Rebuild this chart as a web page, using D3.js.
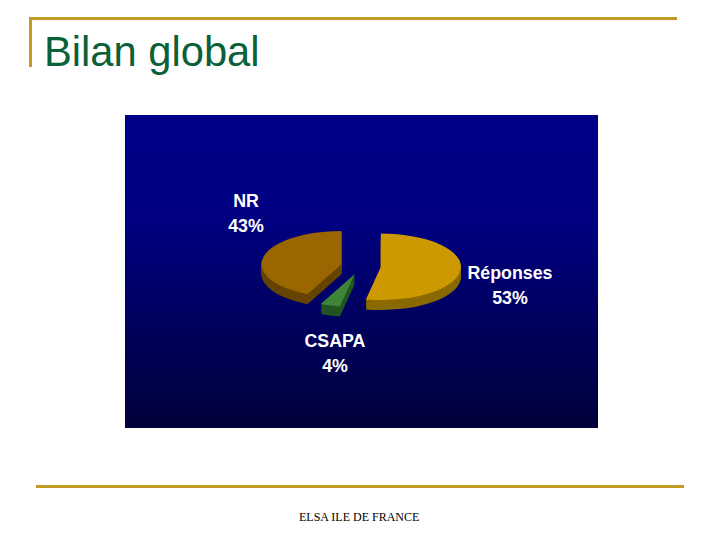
<!DOCTYPE html>
<html>
<head>
	<title>Bilan global</title>
	<meta charset="utf-8">
	<style type="text/css">
		html, body { margin: 0; padding: 0; background: #fff; }
		svg { display: block; }
	</style>
</head>
<body>
<script type="text/javascript" src="https://cdn.jsdelivr.net/npm/d3@7"></script>
<script type="text/javascript">
	// data
	var categories = ["Réponses", "CSAPA", "NR"];
	var values = [53, 4, 43];

	// style, same order as categories
	var topColors = ["#cc9a00", "#3f8538", "#996600"];
	var sideColors = ["#8a6a00", "#235423", "#664400"];
	var labelAnchors = [[510, 273], [335, 341], [246, 201]];

	var w = 720, h = 540;
	var gold = "#c09a22";

	var svg = d3.select("body").append("svg").attr("width", w).attr("height", h);

	/*=====FRAME======*/
	var frame = svg.append("g").attr("stroke", gold).attr("stroke-width", 3).attr("fill", "none");
	frame.append("path").attr("d", "M30.5,67V18.5H677");
	frame.append("path").attr("d", "M36,486.5H684");

	svg.append("text")
		.attr("x", 44).attr("y", 66)
		.attr("font-family", "Liberation Sans")
		.attr("font-size", 41.7)
		.attr("fill", "#0a6038")
		.text("Bilan global");

	svg.append("text")
		.attr("x", 299).attr("y", 521)
		.attr("font-family", "Liberation Serif")
		.attr("font-size", 12)
		.attr("fill", "#000")
		.text("ELSA ILE DE FRANCE");

	/*=====PANEL======*/
	var grad = svg.append("defs").append("linearGradient")
		.attr("id", "panel").attr("x1", 0).attr("y1", 0).attr("x2", 0).attr("y2", 1);
	grad.append("stop").attr("offset", "0%").attr("stop-color", "#000088");
	grad.append("stop").attr("offset", "35%").attr("stop-color", "#000080");
	grad.append("stop").attr("offset", "100%").attr("stop-color", "#00003a");

	svg.append("rect")
		.attr("x", 125).attr("y", 115)
		.attr("width", 473).attr("height", 313)
		.attr("fill", "url(#panel)");

	/*=====PIE======*/
	var cx = 361, cy = 266;
	var radius = 80, tilt = 0.415, explode = 20, depth = 10;

	var pie = d3.pie().sort(null);
	var arc = d3.arc().innerRadius(0).outerRadius(radius);
	var slices = pie(values).map(function(d, i) {
		d.i = i;
		var mid = (d.startAngle + d.endAngle) / 2;
		d.ox = Math.sin(mid) * explode;
		d.oy = -Math.cos(mid) * explode * tilt;
		return d;
	});

	// back slices first
	var drawOrder = [2, 0, 1];
	drawOrder.forEach(function(k) {
		var d = slices[k];
		var unit = svg.append("g").attr("class", "unit");
		// side wall: the slice repeated downward
		d3.range(depth, 0, -1).forEach(function(dy) {
			unit.append("path")
				.attr("d", arc(d))
				.attr("fill", sideColors[k])
				.attr("transform", "translate(" + (cx + d.ox) + "," + (cy + d.oy + dy) + ") scale(1," + tilt + ")");
		});
		unit.append("path")
			.attr("d", arc(d))
			.attr("fill", topColors[k])
			.attr("transform", "translate(" + (cx + d.ox) + "," + (cy + d.oy) + ") scale(1," + tilt + ")");
	});

	/*=====LABELS======*/
	var labels = svg.selectAll("g.label")
		.data(categories)
		.enter()
		.append("g")
		.attr("class", "label")
		.attr("text-anchor", "middle")
		.attr("font-family", "Liberation Sans")
		.attr("font-weight", "bold")
		.attr("font-size", 17.8)
		.attr("fill", "#fff")
		.attr("transform", function(d, i) {
			return "translate(" + labelAnchors[i] + ")";
		});
	labels.append("text")
		.attr("y", 6)
		.text(function(d) { return d; });
	labels.append("text")
		.attr("y", 31)
		.text(function(d, i) { return values[i] + "%"; });
</script>
</body>
</html>
